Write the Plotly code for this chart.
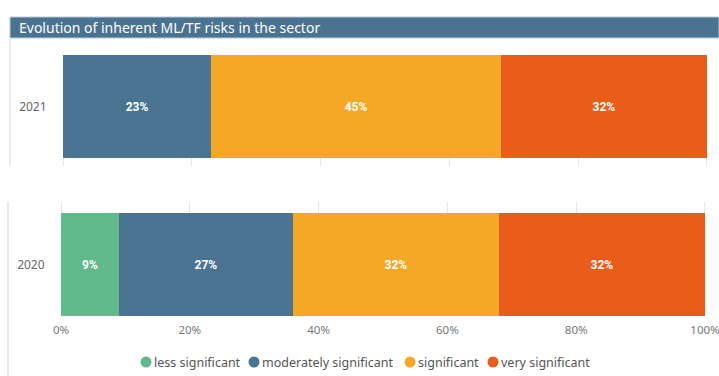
import plotly.graph_objects as go

# Share of inherent ML/TF risk levels per year (percent)
categories = ["less significant", "moderately significant", "significant", "very significant"]
colors = ["#62B98B", "#4A7492", "#F5A826", "#EA5C1A"]
values_2021 = [0, 23, 45, 32]
values_2020 = [9, 27, 32, 32]
title_text = "Evolution of inherent ML/TF risks in the sector"
x_ticks = [0, 20, 40, 60, 80, 100]
x_tick_labels = [f"{t}%" for t in x_ticks]

W, H = 719, 376
PAD = 0.16  # small range padding so the 0% and 100% gridlines stay visible
LEGEND_X = [146, 254, 410, 493]  # pixel centres of the legend dots
LEGEND_Y = 362

def px_x(p):
    return p / W

def py(p):
    """Convert a pixel row (from top) to paper coordinates."""
    return 1 - p / H

fig = go.Figure()

panels = [("2021", values_2021, "x", "y"), ("2020", values_2020, "x2", "y2")]
for year, vals, xa, ya in panels:
    for cat, col, v in zip(categories, colors, vals):
        if v == 0:
            continue
        fig.add_trace(go.Bar(
            y=[year], x=[v], orientation="h", width=1,
            marker=dict(color=col, line=dict(width=0)),
            text=[f"{v}%"], textposition="inside", insidetextanchor="middle",
            textangle=0,
            textfont=dict(family="Roboto", size=12, color="white", weight="bold"),
            name=cat, showlegend=False, xaxis=xa, yaxis=ya,
            hoverinfo="skip",
        ))

axis_common = dict(
    range=[-PAD, 100 + PAD], tickvals=x_ticks, ticktext=x_tick_labels,
    showgrid=True, gridcolor="#e6e6e6", automargin=False,
    gridwidth=1, zeroline=False, showline=False, fixedrange=True,
)
y_common = dict(
    type="category", showgrid=False, zeroline=False, showline=False,
    ticks="outside", ticklen=12, tickcolor="rgba(0,0,0,0)", automargin=False,
    tickfont=dict(family="Noto Sans", size=12, color="#666666"),
)

shapes = [
    # header bar
    dict(type="rect", xref="paper", yref="paper", x0=px_x(10), x1=1, y0=py(38), y1=py(17),
         fillcolor="#4A7391", line=dict(color="#B9CAD8", width=1), layer="below"),
    # panel borders on the left
    dict(type="line", xref="paper", yref="paper", x0=px_x(10), x1=px_x(10), y0=py(166), y1=py(38),
         line=dict(color="#DCE4EC", width=1.5)),
    dict(type="line", xref="paper", yref="paper", x0=px_x(8), x1=px_x(8), y0=0, y1=py(202),
         line=dict(color="#DCE4EC", width=1.5)),
]
annotations = [
    dict(text=title_text, xref="paper", yref="paper", x=px_x(17), y=py(27.5),
         xanchor="left", yanchor="middle", showarrow=False,
         font=dict(family="Noto Sans", size=14, color="white")),
]

# Legend: round dots followed by their category names
for cat, col, cx in zip(categories, colors, LEGEND_X):
    shapes.append(dict(
        type="circle", xref="paper", yref="paper",
        xsizemode="pixel", ysizemode="pixel",
        xanchor=px_x(cx), yanchor=py(LEGEND_Y),
        x0=-5.5, x1=5.5, y0=-5.5, y1=5.5,
        fillcolor=col, line=dict(width=0),
    ))
    annotations.append(dict(
        text=cat, xref="paper", yref="paper", x=px_x(cx + 6), y=py(LEGEND_Y),
        xanchor="left", yanchor="middle", showarrow=False,
        font=dict(family="Noto Sans", size=12.5, color="#555555"),
    ))

fig.update_layout(
    width=W, height=H,
    margin=dict(l=0, r=0, t=0, b=0),
    paper_bgcolor="white", plot_bgcolor="white",
    barmode="stack",
    showlegend=False,
    xaxis=dict(domain=[px_x(62), px_x(708)], anchor="y", showticklabels=False, **axis_common),
    yaxis=dict(domain=[py(166), py(55)], anchor="x", range=[-0.5 - 8 / 103, 0.5], **y_common),
    xaxis2=dict(domain=[px_x(60), px_x(706)], anchor="y2",
                tickfont=dict(family="Noto Sans", size=11.5, color="#777777"),
                ticklabeloverflow="allow",
                ticks="outside", ticklen=3, tickcolor="rgba(0,0,0,0)",
                **axis_common),
    yaxis2=dict(domain=[py(316), py(202)], anchor="x2", range=[-0.5, -0.5 + 114 / 103], **y_common),
    shapes=shapes,
    annotations=annotations,
)

fig.write_html("out.html")
